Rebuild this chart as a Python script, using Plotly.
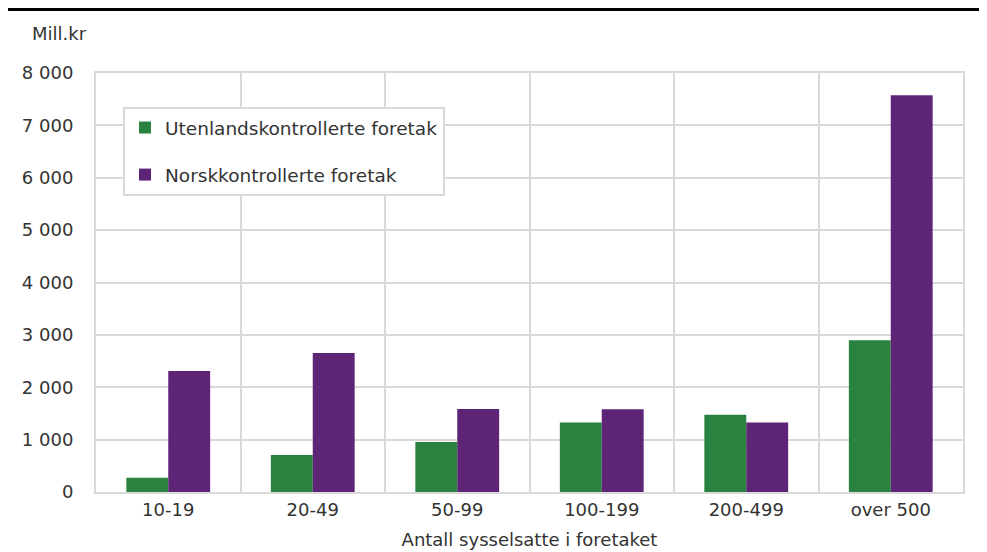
import plotly.graph_objects as go

categories = ["10-19", "20-49", "50-99", "100-199", "200-499", "over 500"]
utenlandsk = [270, 705, 955, 1325, 1475, 2895]
norsk = [2310, 2655, 1585, 1580, 1325, 7575]

green = "#29823f"
purple = "#5e2577"
grid = "#d9d9d9"
txt = "#333333"

# figure pixels (page adds an 8px body margin)
W, H = 987, 552
L, R, T, B = 88, 32, 65, 68
pw, ph = W - L - R, H - T - B


def px_x(x):
    return (x - L) / pw


def px_y(y):
    return (H - B - y) / ph


fig = go.Figure()
fig.add_trace(go.Bar(
    x=categories, y=utenlandsk, name="Utenlandskontrollerte foretak",
    marker=dict(color=green, line=dict(width=0)), legendgroup="a"
))
fig.add_trace(go.Bar(
    x=categories, y=norsk, name="Norskkontrollerte foretak",
    marker=dict(color=purple, line=dict(width=0)), legendgroup="b"
))

fig.update_layout(
    width=W, height=H,
    margin=dict(l=L, r=R, t=T, b=B),
    paper_bgcolor="white", plot_bgcolor="white",
    font=dict(family="DejaVu Sans", size=18, color=txt),
    separators=", ",
    barmode="group", bargap=0.42, bargroupgap=0,
    legend=dict(
        x=px_x(115), y=px_y(99), xanchor="left", yanchor="top",
        bgcolor="white", bordercolor=grid, borderwidth=2,
        tracegroupgap=20, font=dict(size=18.5, color=txt),
    ),
    showlegend=True,
)

fig.update_xaxes(
    type="category", tickson="boundaries", showgrid=True, gridcolor=grid, gridwidth=2,
    showline=True, linecolor=grid, linewidth=2, mirror=True, ticks="",
    title=dict(text="Antall sysselsatte i foretaket", standoff=15, font=dict(size=18, color=txt)),
)
fig.update_yaxes(
    range=[0, 8000], dtick=1000, tickformat=",d", showgrid=True, gridcolor=grid, gridwidth=2,
    showline=True, linecolor=grid, linewidth=2, mirror=True, ticks="", zeroline=False,
    ticklabelstandoff=17,
)

fig.add_annotation(
    text="Mill.kr", xref="paper", yref="paper",
    x=px_x(22), y=px_y(25), xanchor="left", yanchor="middle",
    showarrow=False, font=dict(size=18, color=txt),
)
fig.add_shape(
    type="line", xref="paper", yref="paper",
    x0=px_x(0), x1=px_x(W), y0=px_y(1.5), y1=px_y(1.5),
    line=dict(color="black", width=3),
)

fig.write_html("out.html")
